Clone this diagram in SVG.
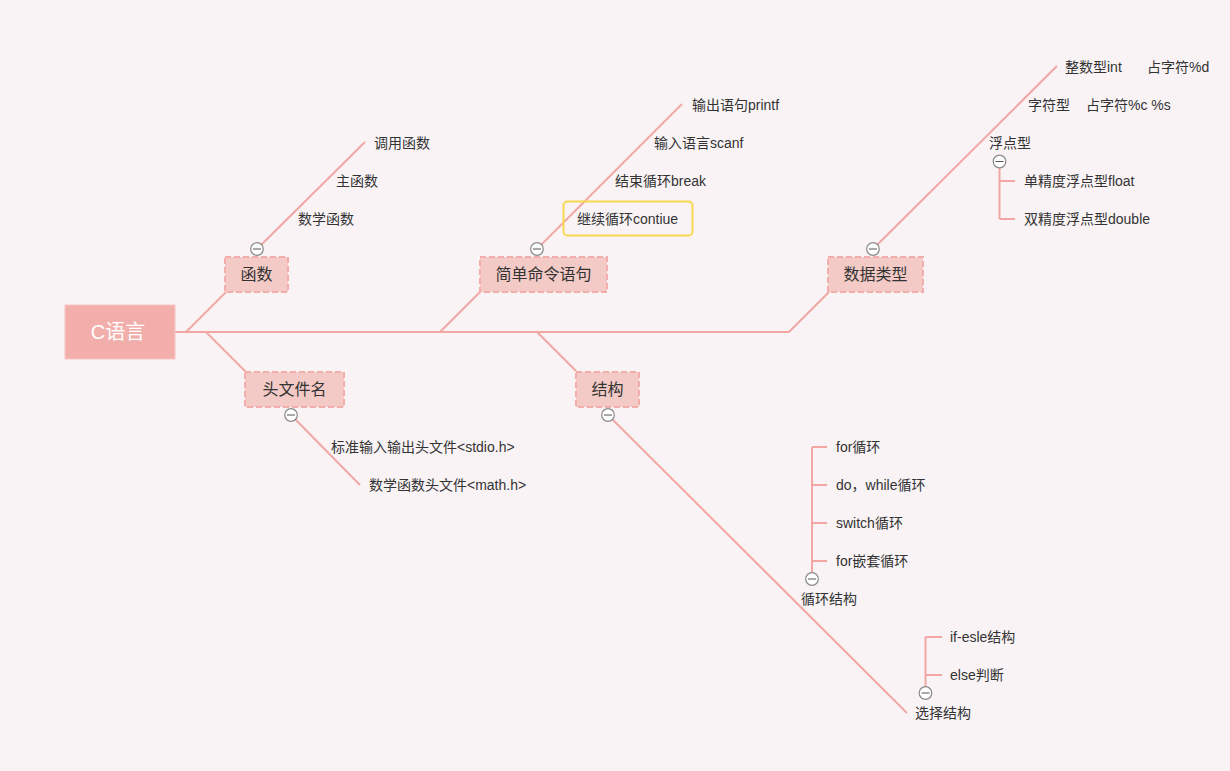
<svg xmlns="http://www.w3.org/2000/svg" width="1230" height="771" viewBox="0 0 1230 771">
<style>
.ln{stroke:#f3a7a4;stroke-width:2;fill:none}
.box{fill:#f4cac6;stroke:#f3aeab;stroke-width:2;stroke-dasharray:6 3}
.nt{font-family:"Liberation Sans","Noto Sans CJK SC",sans-serif;font-size:16px;fill:#333;text-anchor:middle}
.t{font-family:"Liberation Sans","Noto Sans CJK SC",sans-serif;font-size:14px;fill:#333}
.col circle{fill:#fff;stroke:#8a8a8a;stroke-width:1.2}
.col line{stroke:#555;stroke-width:1}
</style>
<defs>
<g id="minus" class="col"><circle cx="0" cy="0" r="6.3"/><line x1="-4" y1="0" x2="4" y2="0"/></g>
</defs>
<rect width="1230" height="771" fill="#f9f3f6"/>
<g id="connectors">
<path class="ln" d="M175 332 H789 L829 292"/>
<path class="ln" d="M186 332 L226 292"/>
<path class="ln" d="M206 332 L246 372"/>
<path class="ln" d="M440 332 L480 292"/>
<path class="ln" d="M537 332 L576 371"/>
<path class="ln" d="M257 249 L365 142"/>
<path class="ln" d="M537 249 L682 104"/>
<path class="ln" d="M873 249 L1057 66"/>
<path class="ln" d="M999.5 162 V219 M999.5 181 H1015 M999.5 219 H1015"/>
<path class="ln" d="M291 415 L360 485"/>
<path class="ln" d="M608 415 L907 713"/>
<path class="ln" d="M812 579 V447 M812 447 H827 M812 485 H827 M812 523 H827 M812 561 H827"/>
<path class="ln" d="M925.5 693 V637 M925.5 637 H942 M925.5 675 H942"/>
</g>
<g id="root">
<rect x="65" y="305" width="110" height="54" fill="#f2aeab" stroke="#f7c6c3" stroke-width="1"/>
<text x="118" y="339" font-family="Liberation Sans,Noto Sans CJK SC,sans-serif" font-size="20" fill="#fff" text-anchor="middle">C语言</text>
</g>
<g id="n-hanshu">
<rect class="box" x="225" y="257" width="63" height="35"/>
<text class="nt" x="256.5" y="280">函数</text>
<use href="#minus" x="257" y="249"/>
<text class="t" x="374" y="148">调用函数</text>
<text class="t" x="336" y="186">主函数</text>
<text class="t" x="298" y="224">数学函数</text>
</g>
<g id="n-mingling">
<rect class="box" x="480" y="257" width="127" height="35"/>
<text class="nt" x="543.5" y="280">简单命令语句</text>
<use href="#minus" x="537" y="249"/>
<text class="t" x="692" y="110">输出语句printf</text>
<text class="t" x="654" y="148">输入语言scanf</text>
<text class="t" x="615" y="186">结束循环break</text>
<rect x="563.5" y="201.5" width="129" height="34" rx="4" fill="none" stroke="#f8d84e" stroke-width="2"/>
<text class="t" x="577" y="224">继续循环contiue</text>
</g>
<g id="n-shuju">
<rect class="box" x="828" y="257" width="95" height="35"/>
<text class="nt" x="875.5" y="280">数据类型</text>
<use href="#minus" x="873" y="249"/>
<text class="t" y="72"><tspan x="1065">整数型int</tspan><tspan x="1147">占字符%d</tspan></text>
<text class="t" y="110"><tspan x="1028">字符型</tspan><tspan x="1086">占字符%c %s</tspan></text>
<text class="t" x="989" y="148">浮点型</text>
<use href="#minus" x="999.5" y="161.5"/>
<text class="t" x="1024" y="186">单精度浮点型float</text>
<text class="t" x="1024" y="224">双精度浮点型double</text>
</g>
<g id="n-touwenjian">
<rect class="box" x="245" y="372" width="99" height="35"/>
<text class="nt" x="294.5" y="395">头文件名</text>
<use href="#minus" x="291" y="415"/>
<text class="t" x="331" y="452">标准输入输出头文件&lt;stdio.h&gt;</text>
<text class="t" x="369" y="490">数学函数头文件&lt;math.h&gt;</text>
</g>
<g id="n-jiegou">
<rect class="box" x="576" y="372" width="63" height="35"/>
<text class="nt" x="607.5" y="395">结构</text>
<use href="#minus" x="608" y="415"/>
<text class="t" x="801" y="604">循环结构</text>
<use href="#minus" x="812" y="579"/>
<text class="t" x="836" y="452">for循环</text>
<text class="t" x="836" y="490">do，while循环</text>
<text class="t" x="836" y="528">switch循环</text>
<text class="t" x="836" y="566">for嵌套循环</text>
<text class="t" x="915" y="718">选择结构</text>
<use href="#minus" x="925.5" y="693"/>
<text class="t" x="950" y="642">if-esle结构</text>
<text class="t" x="950" y="680">else判断</text>
</g>
</svg>
